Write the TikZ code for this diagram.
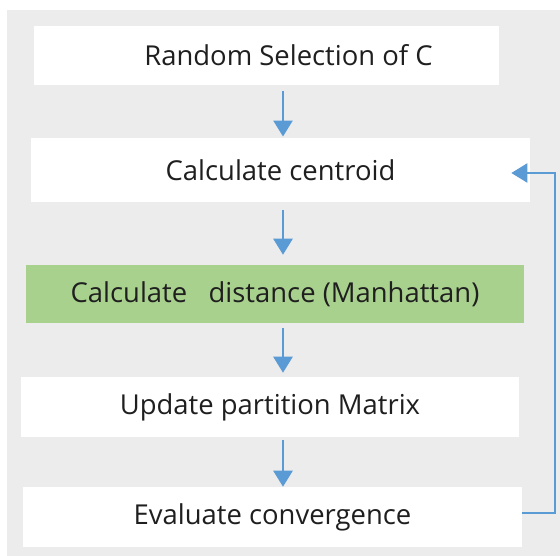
\documentclass[tikz,border=0pt]{standalone}
\usepackage{fontspec}
\setmainfont{Open Sans}
\usetikzlibrary{arrows.meta}

\definecolor{bggray}{HTML}{ECECEC}
\definecolor{stepgreen}{HTML}{A9D18E}
\definecolor{arrowblue}{HTML}{5B9BD5}

\begin{document}
\begin{tikzpicture}[
    x=0.025cm, y=-0.025cm,
    every node/.style={font=\fontsize{19.5}{23}\selectfont, text=black!88},
    stepbox/.style={fill=white, draw=none, inner sep=0pt},
    flow/.style={draw=arrowblue, line width=1.5pt,
      -{Triangle[width=0.48cm, length=0.4cm]}},
  ]
    % Hintergrund
    \useasboundingbox (0, 0) rectangle (560, 556);
    \fill[bggray] (7, 10) rectangle (560, 556);

    % Schritte
    \node[stepbox, minimum width=11.625cm, minimum height=1.475cm,
      label={[xshift=0.55cm]center:Random Selection of C}] (sel) at (266.5, 55.5) {};
    \node[stepbox, minimum width=12.475cm, minimum height=1.6cm] (cent) at (280.5, 170) {Calculate centroid};
    \node[stepbox, fill=stepgreen, minimum width=12.45cm, minimum height=1.45cm] (dist) at (275, 294) {Calculate~~~distance (Manhattan)};
    \node[stepbox, minimum width=12.45cm, minimum height=1.5cm] (upd) at (270, 407) {Update partition Matrix};
    \node[stepbox, minimum width=12.475cm, minimum height=1.5cm] (eval) at (272.5, 517) {Evaluate convergence};

    % Pfeile
    \coordinate (ax) at (283, 0);
    \coordinate (fb) at (555, 0);
    \draw[flow, shorten <=0.15cm, shorten >=0.03cm] (sel.south -| ax) -- (cent.north -| ax);
    \draw[flow, shorten <=0.2cm, shorten >=0.25cm] (cent.south -| ax) -- (dist.north -| ax);
    \draw[flow, shorten <=0.12cm, shorten >=0.1cm] (dist.south -| ax) -- (upd.north -| ax);
    \draw[flow, shorten <=0.08cm] (upd.south -| ax) -- (eval.north -| ax);

    % Rueckfuehrung
    \draw[flow, line width=1.1pt, shorten >=-0.475cm] ([yshift=0.1cm]eval.east) -- ([yshift=0.1cm]eval.east -| fb)
      |- ([yshift=-0.075cm]cent.east);
\end{tikzpicture}
\end{document}
